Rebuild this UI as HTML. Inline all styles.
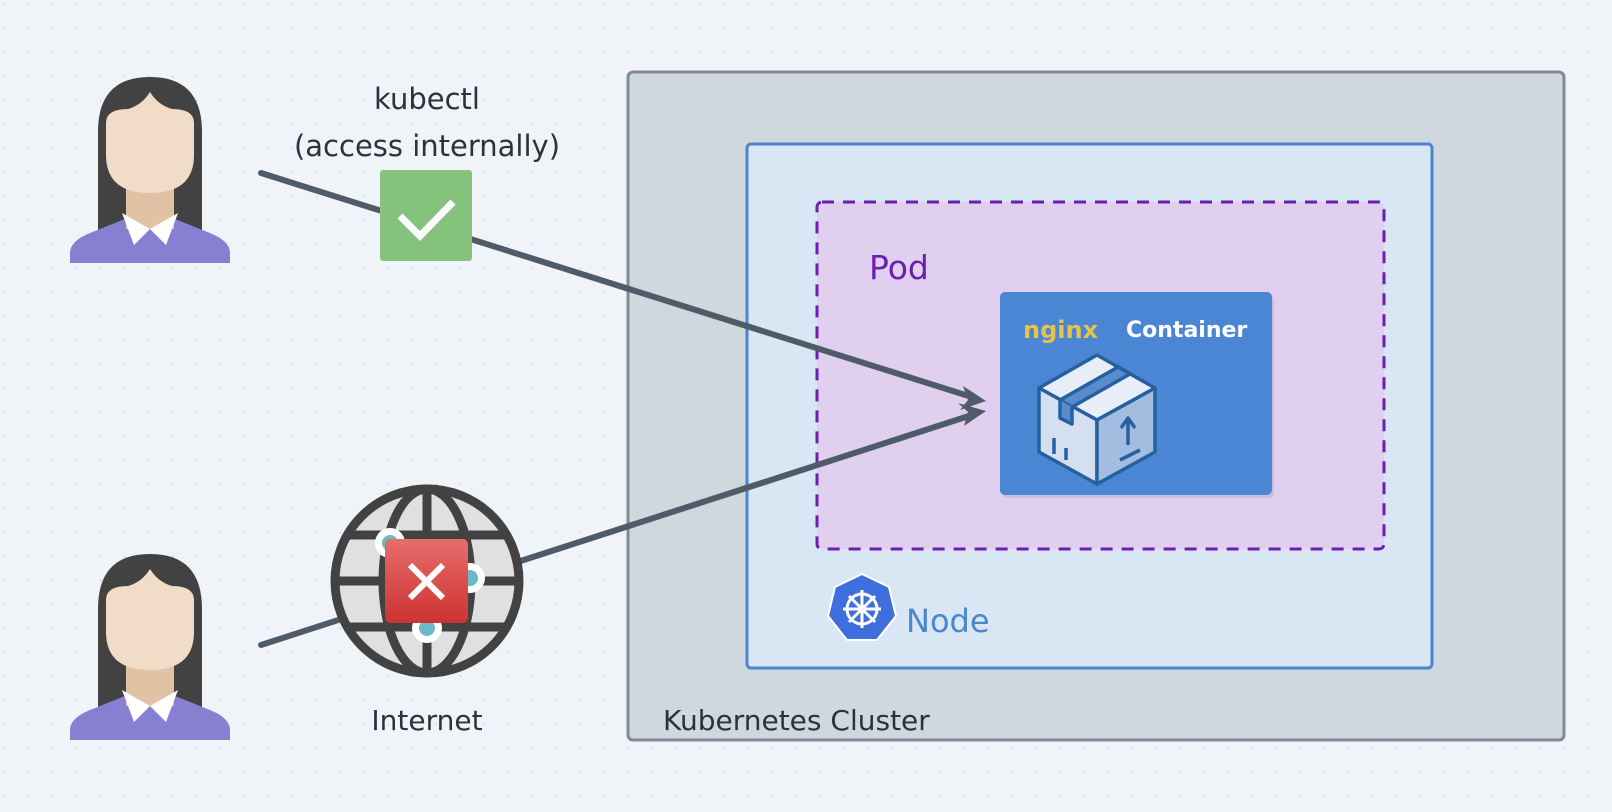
<!DOCTYPE html>
<html><head><meta charset="utf-8"><style>
html,body{margin:0;padding:0;width:1612px;height:812px;overflow:hidden;background:#f0f4f8}
svg text{font-family:"DejaVu Sans","Liberation Sans",sans-serif}
</style></head><body>
<svg width="1612" height="812" viewBox="0 0 1612 812" xmlns="http://www.w3.org/2000/svg">
<defs>
<pattern id="dots" width="24" height="24" patternUnits="userSpaceOnUse" x="4" y="4">
<circle cx="0" cy="0" r="1.4" fill="#bfc5ce"/></pattern>
<linearGradient id="rg" x1="0" y1="0" x2="0" y2="1"><stop offset="0" stop-color="#e86d6d"/><stop offset="1" stop-color="#cc3330"/></linearGradient>
<g id="person">
<path d="M28 55 Q28 0 80 0 Q132 0 132 55 L132 180 L28 180 Z" fill="#424242"/>
<path d="M0 186 L0 176 Q0 164 20 156 L60 140 L100 140 L140 156 Q160 164 160 176 L160 186 Z" fill="#8780d2"/>
<rect x="56" y="108" width="48" height="44" fill="#e2c2a4"/>
<path d="M52 136 L80 152 L64 168 Z M108 136 L80 152 L96 168 Z" fill="#fff"/>
<path d="M36 46 Q36 32 58 32 Q72 28 80 15 Q88 28 102 32 Q124 32 124 46 L124 78 Q124 116 80 116 Q36 116 36 78 Z" fill="#f0dcc7"/>
</g>
</defs>
<rect width="1612" height="812" fill="url(#dots)"/>

<rect x="628" y="72" width="936" height="668" rx="5" fill="#cfd7df" stroke="#7f8a98" stroke-width="3"/>
<rect x="747" y="144" width="685" height="524" rx="4" fill="#d9e6f4" stroke="#4a86d0" stroke-width="3"/>
<rect x="817" y="202" width="567" height="347" rx="5" fill="#e0cfee" stroke="#6b1fb0" stroke-width="3" stroke-dasharray="12 9"/>
<text x="869" y="279" font-size="33" fill="#6b1fb0">Pod</text>

<rect x="1002" y="295" width="272" height="203" rx="5" fill="#000" opacity="0.08"/>
<rect x="1000" y="292" width="272" height="203" rx="5" fill="#4a86d3"/>
<text x="1023" y="338" font-size="24" font-weight="bold" fill="#e9c24a">nginx</text>
<text x="1126" y="337" font-size="22" font-weight="bold" fill="#fff">Container</text>
<g stroke="#2560a0" stroke-width="3.5" stroke-linejoin="round">
<path d="M1039 388 L1097 355 L1155 388 L1097 420 Z" fill="#e8eef7"/>
<path d="M1039 388 L1097 420 L1097 484 L1039 452 Z" fill="#d4dff0"/>
<path d="M1097 420 L1155 388 L1155 452 L1097 484 Z" fill="#a3bde0"/>
<path d="M1060 400 L1118 367 L1130 374 L1072 407 Z" fill="#5a8ccc"/>
<path d="M1060 400 L1060 418 L1072 424 L1072 407" fill="#5a8ccc"/>
<path d="M1054 438 L1054 454 M1066 448 L1066 460" fill="none"/>
<path d="M1128 445 L1128 420 M1121 428 L1128 418 L1135 428 M1120 460 L1140 450" fill="none"/>
</g>

<polygon points="862,574 889,587 896,616 877,640 847,640 828,616 835,587" fill="#3f6fdc" stroke="#fff" stroke-width="2"/>
<g stroke="#fff" stroke-width="3" fill="none"><circle cx="862" cy="609" r="15"/>
<path d="M862 590 V628 M843 609 H881 M849 596 L875 622 M875 596 L849 622"/></g>
<text x="906" y="632" font-size="32" fill="#4a86d0">Node</text>
<text x="663" y="730" font-size="28" fill="#2b323c">Kubernetes Cluster</text>

<use href="#person" transform="translate(70,77)"/>
<use href="#person" transform="translate(70,554)"/>

<g stroke="#4f5b69" stroke-width="6" stroke-linecap="round" fill="none">
<line x1="261" y1="173" x2="975" y2="398"/>
<line x1="261" y1="645" x2="975" y2="414"/>
</g>
<polygon points="986,401 963,386 968,400 960,410" fill="#4f5b69"/>
<polygon points="986,411 958,403 968,412 964,426" fill="#4f5b69"/>

<text x="427" y="109" font-size="29" fill="#2b323c" text-anchor="middle">kubectl</text>
<text x="427" y="156" font-size="29" fill="#2b323c" text-anchor="middle">(access internally)</text>
<rect x="380" y="170" width="92" height="91" rx="3" fill="#84c27e"/>
<path d="M400 216 L420 236 L453 202" stroke="#fff" stroke-width="7" fill="none"/>

<g stroke="#424242" stroke-width="9" fill="#e0e0e0">
<circle cx="427" cy="581" r="92"/>
<ellipse cx="427" cy="581" rx="44" ry="92" fill="none"/>
<path d="M427 489 V673 M337 581 H517 M350 535 H504 M350 627 H504" fill="none"/>
</g>
<circle cx="390" cy="543" r="15" fill="#fff"/><circle cx="390" cy="543" r="8" fill="#6bb9c5"/>
<circle cx="470" cy="578" r="15" fill="#fff"/><circle cx="470" cy="578" r="8" fill="#6bb9c5"/>
<circle cx="427" cy="628" r="15" fill="#fff"/><circle cx="427" cy="628" r="8" fill="#6bb9c5"/>
<rect x="385" y="539" width="83" height="84" rx="5" fill="url(#rg)"/>
<path d="M410 565 L443 598 M443 565 L410 598" stroke="#fff" stroke-width="6"/>
<text x="427" y="730" font-size="28" fill="#2b323c" text-anchor="middle">Internet</text>
</svg>
</body></html>
